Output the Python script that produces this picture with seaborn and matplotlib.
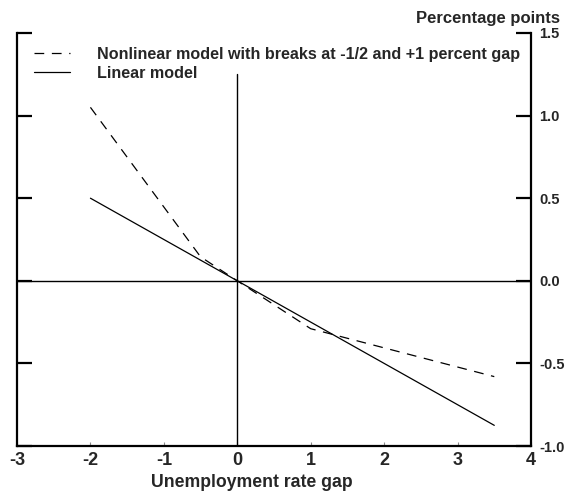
import matplotlib
matplotlib.use("Agg")
import matplotlib.pyplot as plt
import seaborn as sns
import pandas as pd

# Data
nonlinear_x = [-2.0, -0.5, 0.0, 1.0, 3.5]
nonlinear_y = [1.05, 0.145, 0.0, -0.29, -0.58]
linear_x = [-2.0, 3.5]
linear_y = [0.5, -0.875]
x_ticks = [-3, -2, -1, 0, 1, 2, 3, 4]
y_ticks = [-1.0, -0.5, 0.0, 0.5, 1.0, 1.5]
y_tick_labels = ["-1.0", "-0.5", "0.0", "0.5", "1.0", "1.5"]
label_nonlinear = "Nonlinear model with breaks at -1/2 and +1 percent gap"
label_linear = "Linear model"

sns.set_theme(style="white")
plt.rcParams["font.family"] = ["Liberation Sans", "DejaVu Sans"]
plt.rcParams["lines.scale_dashes"] = False

df_nl = pd.DataFrame({"x": nonlinear_x, "y": nonlinear_y})
df_l = pd.DataFrame({"x": linear_x, "y": linear_y})

fig = plt.figure(figsize=(5.69, 4.91), dpi=100)
ax = fig.add_axes([17/569, 45/491, 514/569, 413/491])

ax.axhline(0, color="black", lw=1.0, zorder=1)
ax.plot([0, 0], [-1.0, 1.25], color="black", lw=1.0, zorder=1)

sns.lineplot(data=df_nl, x="x", y="y", ax=ax, color="black", lw=0.9,
             dashes=False, label=label_nonlinear, estimator=None, sort=False)
ax.lines[-1].set_dashes((7.0, 5.5))
sns.lineplot(data=df_l, x="x", y="y", ax=ax, color="black", lw=0.9,
             label=label_linear, estimator=None, sort=False)

ax.set_xlim(-3, 4)
ax.set_ylim(-1.0, 1.5)
ax.set_xticks(x_ticks)
ax.set_xticklabels([str(t) for t in x_ticks], fontsize=13, fontweight="bold")
ax.set_yticks(y_ticks)
ax.set_yticklabels(y_tick_labels, fontsize=10.5, fontweight="bold")

for s in ["left", "right", "bottom"]:
    ax.spines[s].set_visible(True)
    ax.spines[s].set_color("black")
    ax.spines[s].set_linewidth(1.6)
ax.spines["top"].set_visible(False)

ax.tick_params(axis="y", which="both", direction="in", left=True, right=True,
               labelleft=False, labelright=True, length=10.5, width=1.6,
               color="black", pad=6)
ax.tick_params(axis="x", direction="in", bottom=True, length=3, width=0.8,
               color="#888888", pad=4)

ax.set_xlabel("Unemployment rate gap", fontsize=12.7, fontweight="bold")
ax.xaxis.set_label_coords(0.457, -0.068)
ax.set_ylabel("")

fig.text(560/569, 1 - 18/491, "Percentage points", ha="right", va="center",
         fontsize=12, fontweight="bold")

leg = ax.legend(loc="upper left", bbox_to_anchor=(0.02, 0.982), frameon=False,
                handlelength=2.25, handletextpad=1.65, labelspacing=0.25,
                prop={"size": 11.6, "weight": "bold"}, borderaxespad=0)

fig.savefig("out.png", dpi=100)
